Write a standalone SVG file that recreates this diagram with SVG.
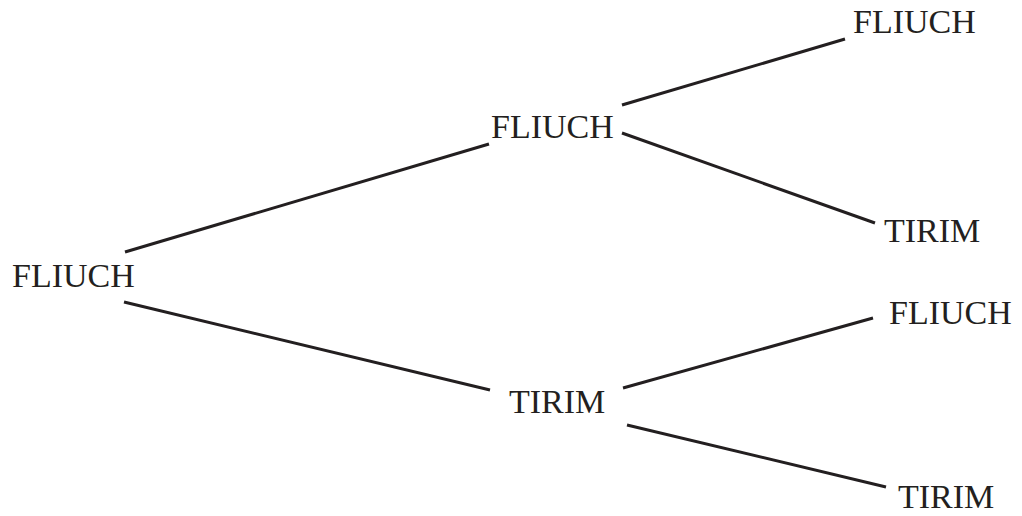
<svg xmlns="http://www.w3.org/2000/svg" width="1022" height="516" viewBox="0 0 1022 516">
<style>
.t{font-family:"Liberation Serif","Times New Roman",serif;font-size:34px;fill:#231f20}
.c line{stroke:#231f20;stroke-width:3;stroke-linecap:butt}
</style>
<rect width="1022" height="516" fill="#ffffff"/>
<g id="connectors" class="c">
<line x1="125" y1="252" x2="489" y2="144"/>
<line x1="124" y1="302" x2="490" y2="390"/>
<line x1="622" y1="105" x2="845" y2="39"/>
<line x1="622" y1="133" x2="875" y2="223"/>
<line x1="623" y1="388" x2="873" y2="318"/>
<line x1="627" y1="425" x2="886" y2="487"/>
</g>
<g id="n-root"><text class="t" x="12" y="287">FLIUCH</text></g>
<g id="n-f"><text class="t" x="491" y="138">FLIUCH</text></g>
<g id="n-t"><text class="t" x="509" y="413">TIRIM</text></g>
<g id="n-ff"><text class="t" x="853" y="33">FLIUCH</text></g>
<g id="n-ft"><text class="t" x="884" y="242">TIRIM</text></g>
<g id="n-tf"><text class="t" x="889" y="324">FLIUCH</text></g>
<g id="n-tt"><text class="t" x="898" y="508">TIRIM</text></g>
</svg>
